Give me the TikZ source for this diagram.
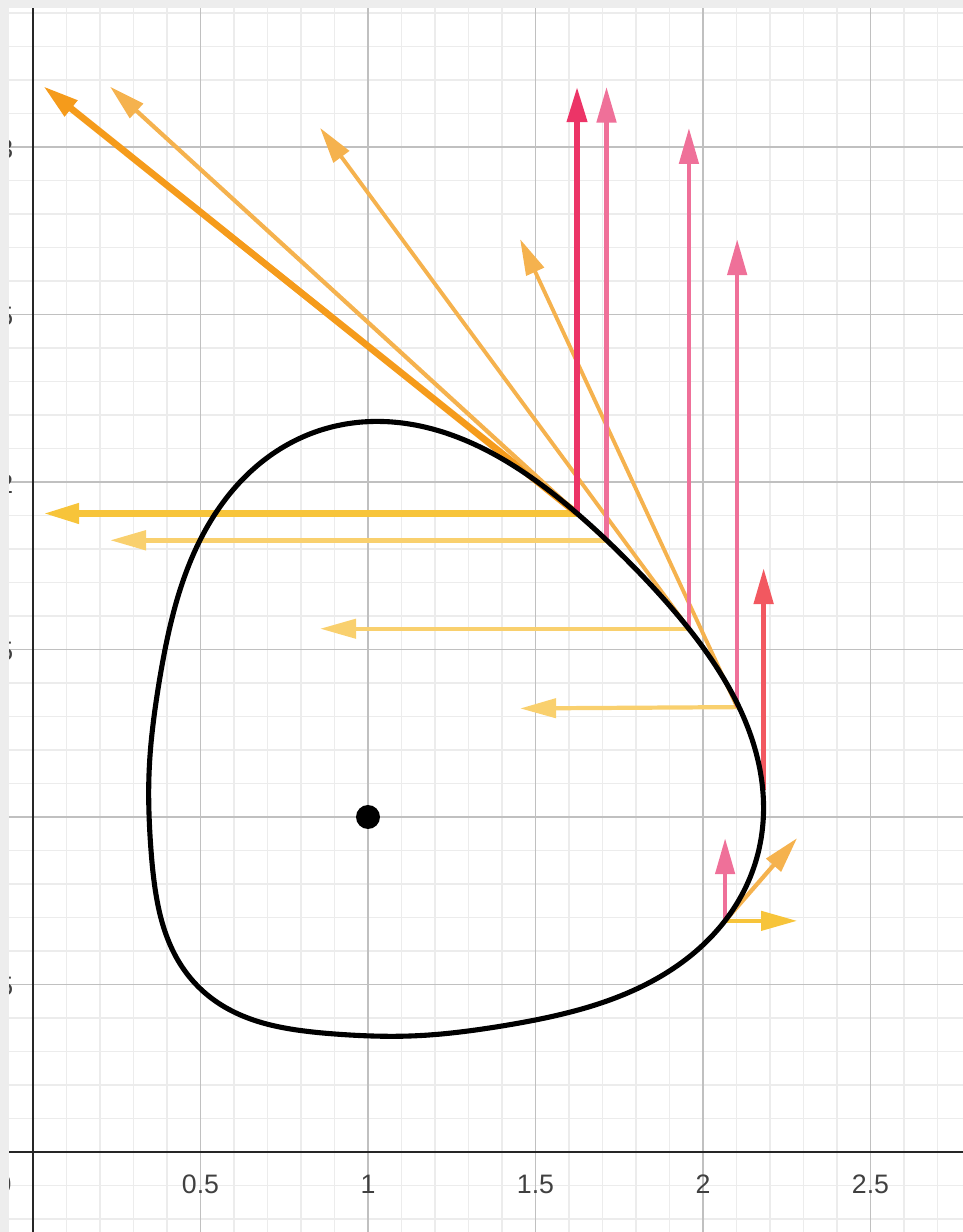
\documentclass[tikz,border=0pt]{standalone}
\usepackage{fontspec}
\setmainfont{Liberation Sans}
\usetikzlibrary{arrows.meta}
\definecolor{gridminor}{RGB}{236,236,236}
\definecolor{gridmajor}{RGB}{192,192,192}
\definecolor{framegray}{RGB}{237,237,237}
\definecolor{pinkdark}{RGB}{236,52,103}
\definecolor{pinklight}{RGB}{239,112,153}
\definecolor{vecred}{RGB}{242,88,96}
\definecolor{orangedark}{RGB}{245,155,27}
\definecolor{orangelight}{RGB}{245,178,78}
\definecolor{yellowdark}{RGB}{247,196,58}
\definecolor{yellowlight}{RGB}{249,208,110}

\begin{document}
\begin{tikzpicture}[x=3.35cm,y=3.35cm,>={Triangle[length=3.6mm,width=1.9mm]},
    declare function={rr(\p)=0.8915+0.2794*cos(\p)+0.0294*cos(2*\p)-0.0861*cos(3*\p)
        -0.0253*cos(4*\p)-0.0071*cos(5*\p)+0.0071*cos(6*\p);},
    minorgrid/.style={gridminor,line width=0.35pt},
    majorgrid/.style={gridmajor,line width=0.45pt},
    axisline/.style={black!85,line width=0.75pt},
    ticklabel/.style={font=\fontsize{7.6}{9}\selectfont,text=black!75,inner sep=0pt},
    vec/.style={->,line cap=butt}]
    \clip (-0.0985,-0.2388) rectangle (2.7761,3.4388);
    % grid
    \foreach \i in {-1,...,27} \draw[minorgrid] (\i/10,-0.2388)--(\i/10,3.4388);
    \foreach \j in {-2,...,34} \draw[minorgrid] (-0.0985,\j/10)--(2.7761,\j/10);
    \foreach \i in {0.5,1,1.5,2,2.5} \draw[majorgrid] (\i,-0.2388)--(\i,3.4388);
    \foreach \j in {0.5,1,1.5,2,2.5,3} \draw[majorgrid] (-0.0985,\j)--(2.7761,\j);
    \draw[axisline] (-0.0985,0)--(2.7761,0);
    \draw[axisline] (0,-0.2388)--(0,3.4388);
    % tick labels
    \foreach \i in {0.5,1,1.5,2,2.5} \node[ticklabel,anchor=base] (x\i) at (\i,-0.125) {\i};
    \node[ticklabel,anchor=base east] (x0) at (-0.062,-0.125) {0};
    \foreach \j in {0.5,1.5,2,2.5,3} \node[ticklabel,anchor=east] (y\j) at (-0.057,\j-0.006) {\j};
    % frame of the screenshot
    \fill[framegray] (-0.0985,-0.2388) rectangle (-0.0715,3.4388);
    \fill[framegray] (-0.0985,3.415) rectangle (2.7761,3.4388);
    % points on the curve
    \coordinate (P1) at (1.624,1.906);
    \coordinate (P2) at (1.712,1.826);
    \coordinate (P3) at (1.958,1.562);
    \coordinate (P4) at (2.102,1.328);
    \coordinate (P5) at (2.181,1.080);
    \coordinate (P6) at (2.066,0.690);
    % vertical and horizontal parts
    \coordinate (P1v) at (1.624,3.182);
    \coordinate (P1h) at (0.030,1.906);
    \coordinate (P2v) at (1.712,3.180);
    \coordinate (P2h) at (0.230,1.826);
    \coordinate (P3v) at (1.958,3.057);
    \coordinate (P3h) at (0.857,1.562);
    \coordinate (P4v) at (2.102,2.725);
    \coordinate (P4h) at (1.454,1.324);
    \coordinate (P5v) at (2.181,1.743);
    \coordinate (P6v) at (2.066,0.937);
    \coordinate (P6h) at (2.281,0.690);
    \coordinate (P1t) at (P1h |- P1v);
    \coordinate (P2t) at (P2h |- P2v);
    \coordinate (P3t) at (P3h |- P3v);
    \coordinate (P4t) at (P4h |- P4v);
    \coordinate (P6t) at (P6h |- P6v);
    % horizontal arrows
    \draw[vec,yellowdark,line width=2pt] (P1)--(P1h);
    \draw[vec,yellowlight,line width=1.4pt] (P2)--(P2h);
    \draw[vec,yellowlight,line width=1.2pt] (P3)--(P3h);
    \draw[vec,yellowlight,line width=1.2pt] (P4)--(P4h);
    \draw[vec,yellowdark,line width=1.2pt] (P6)--(P6h);
    % sums
    \draw[vec,orangedark,line width=1.9pt] (P1)--(P1t);
    \draw[vec,orangelight,line width=1.2pt] (P2)--(P2t);
    \draw[vec,orangelight,line width=1.1pt] (P3)--(P3t);
    \draw[vec,orangelight,line width=1.1pt] (P4)--(P4t);
    \draw[vec,orangelight,line width=1.2pt] (P6)--(P6t);
    % vertical arrows
    \draw[vec,pinkdark,line width=1.9pt] (P1)--(P1v);
    \draw[vec,pinklight,line width=1.4pt] (P2)--(P2v);
    \draw[vec,pinklight,line width=1.3pt] (P3)--(P3v);
    \draw[vec,pinklight,line width=1.3pt] (P4)--(P4v);
    \draw[vec,vecred,line width=1.4pt] (P5)--(P5v);
    \draw[vec,pinklight,line width=1.3pt] (P6)--(P6v);
    % the curve and its centre
    \draw[black,line width=1.45pt,line join=round] plot[domain=0:358,samples=180,smooth,variable=\p]
        ({1+rr(\p)*cos(\p+45)},{1+rr(\p)*sin(\p+45)}) -- cycle;
    \fill[black] (1,1) circle[radius=1.2mm];
\end{tikzpicture}
\end{document}
